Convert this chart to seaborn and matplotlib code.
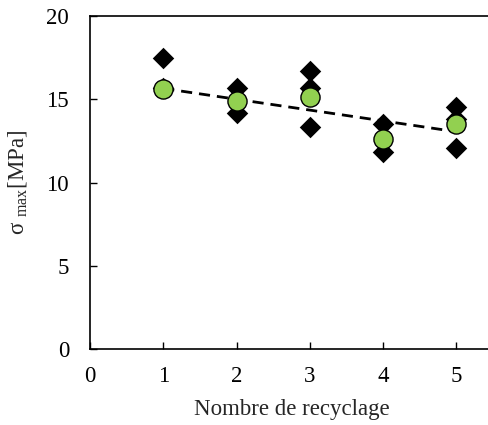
import numpy as np
import pandas as pd
import matplotlib
matplotlib.use("Agg")
import matplotlib.pyplot as plt
import seaborn as sns

# raw measurements (diamonds) and mean per cycle (green circles)
cycles_raw = [1, 1, 2, 2, 3, 3, 3, 4, 4, 5, 5, 5]
sigma_raw = [17.5, 15.65, 15.65, 14.15, 16.7, 15.7, 13.35, 13.5, 11.85, 14.55, 13.8, 12.1]
cycles_mean = [1, 2, 3, 4, 5]
sigma_mean = [15.6, 14.9, 15.15, 12.6, 13.5]

raw = pd.DataFrame({"cycle": cycles_raw, "sigma": sigma_raw})
mean = pd.DataFrame({"cycle": cycles_mean, "sigma": sigma_mean})

sns.set_style("ticks")
plt.rcParams["font.family"] = ["Liberation Serif", "DejaVu Serif"]
plt.rcParams["mathtext.fontset"] = "custom"
plt.rcParams["mathtext.rm"] = "Liberation Serif"

fig = plt.figure(figsize=(4.88, 4.25), dpi=100)
ax = fig.add_axes([0.1844, 0.1788, 0.826, 0.7835])

sns.scatterplot(data=raw, x="cycle", y="sigma", marker="D", s=120, color="black",
                edgecolor="black", linewidth=0, ax=ax, zorder=2)
sns.regplot(data=mean, x="cycle", y="sigma", ci=None, scatter=False, ax=ax,
            line_kws={"color": "black", "ls": (0, (4, 2.5)), "lw": 2.0, "zorder": 3})
sns.scatterplot(data=mean, x="cycle", y="sigma", marker="o", s=190, color="#92D050",
                edgecolor="black", linewidth=1.0, ax=ax, zorder=4)

ax.set_xlim(0, 5.5)
ax.set_ylim(0, 20)
ax.set_xticks([0, 1, 2, 3, 4, 5])
ax.set_yticks([0, 5, 10, 15, 20])
ax.tick_params(direction="in", length=5, width=1, labelsize=16.5, colors="black")
ax.tick_params(axis="x", pad=12)
ax.tick_params(axis="y", pad=15)
for s in ax.spines.values():
    s.set_linewidth(1.2)
    s.set_color("black")
ax.set_xlabel("Nombre de recyclage", fontsize=16.5, labelpad=9)
ax.set_ylabel(r"σ $_{\mathrm{max}}$[MPa]", fontsize=16.5, labelpad=12)

fig.savefig("out.png", dpi=100)
